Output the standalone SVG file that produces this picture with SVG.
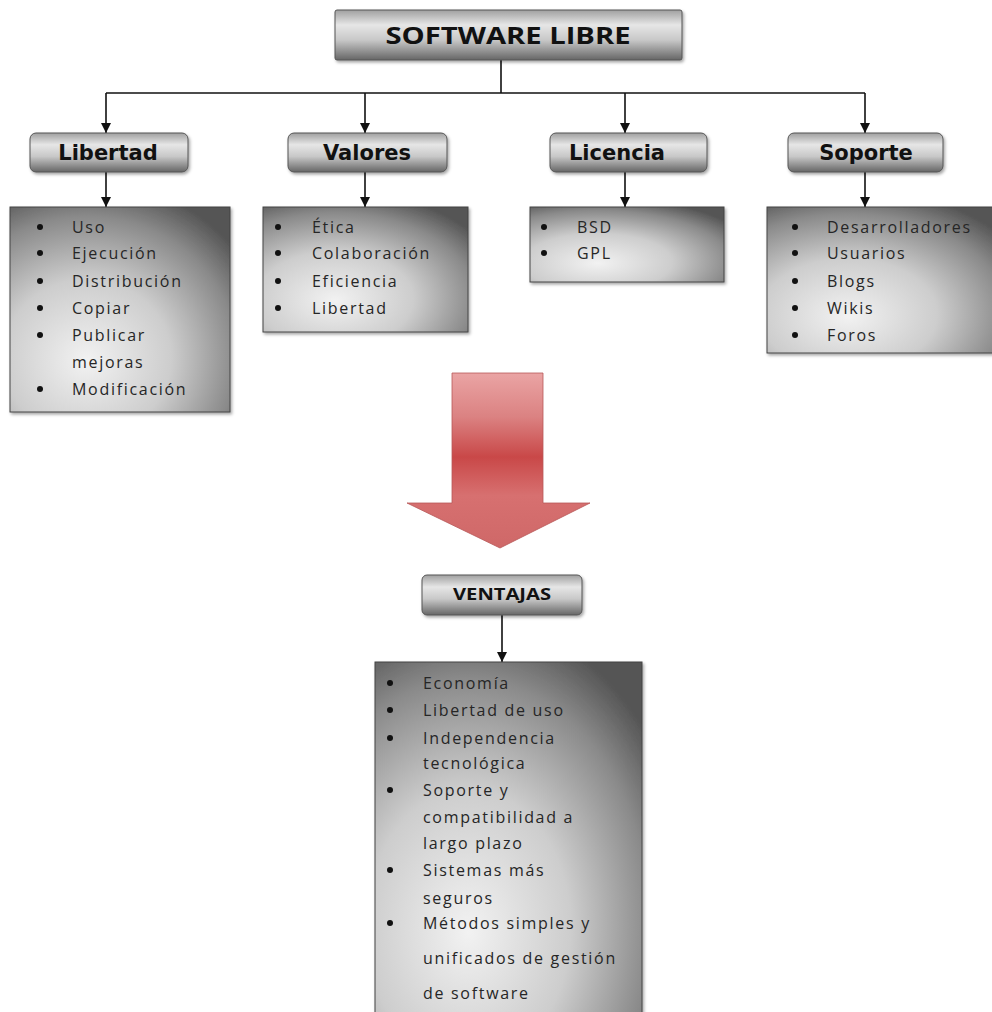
<svg xmlns="http://www.w3.org/2000/svg" width="992" height="1012" viewBox="0 0 992 1012">
<style>
.hdr{font-family:"DejaVu Sans",Verdana,sans-serif;font-weight:bold;font-size:21px;fill:#111;text-anchor:middle}
.ttl{font-family:"Open Sans","Liberation Sans",sans-serif;font-weight:bold;font-size:23px;fill:#111;text-anchor:middle}
.vt{font-family:"Open Sans","Liberation Sans",sans-serif;font-weight:bold;font-size:16px;fill:#111;text-anchor:middle}
.li{font-family:"Open Sans","Liberation Sans",sans-serif;font-size:16px;fill:#262626;letter-spacing:1.7px}
.hbox{fill:url(#hg);stroke:#555;stroke-width:1;filter:url(#sh)}
.lbox{fill:url(#lg);stroke:#444;stroke-width:1;filter:url(#sh)}
.con{stroke:#111;stroke-width:1.6;fill:none}
.bul{fill:#111}
</style>
<defs>
<linearGradient id="hg" x1="0" y1="0" x2="0" y2="1">
<stop offset="0" stop-color="#a0a0a0"/>
<stop offset="0.3" stop-color="#e6e6e6"/>
<stop offset="0.6" stop-color="#c8c8c8"/>
<stop offset="1" stop-color="#666"/>
</linearGradient>
<radialGradient id="lg" cx="0.35" cy="0.72" r="0.85" fx="0.35" fy="0.75">
<stop offset="0" stop-color="#f2f2f2"/>
<stop offset="0.45" stop-color="#cdcdcd"/>
<stop offset="0.8" stop-color="#8a8a8a"/>
<stop offset="1" stop-color="#555"/>
</radialGradient>
<linearGradient id="ag" x1="0" y1="0" x2="0" y2="1">
<stop offset="0" stop-color="#eaa4a4"/>
<stop offset="0.25" stop-color="#db8282"/>
<stop offset="0.48" stop-color="#c94848"/>
<stop offset="0.7" stop-color="#d77070"/>
<stop offset="1" stop-color="#cf6868"/>
</linearGradient>
<filter id="sh" x="-10%" y="-10%" width="130%" height="130%">
<feDropShadow dx="1.5" dy="2" stdDeviation="1.5" flood-color="#000" flood-opacity="0.35"/>
</filter>
<marker id="ah" viewBox="0 0 10 10" refX="10" refY="5" markerWidth="10" markerHeight="10" markerUnits="userSpaceOnUse" orient="auto">
<path d="M0,0 L10,5 L0,10 z" fill="#111"/>
</marker>
</defs>

<g id="connectors">
<line class="con" x1="501" y1="60" x2="501" y2="93"/>
<line class="con" x1="106" y1="93" x2="865" y2="93"/>
<line class="con" x1="106" y1="93" x2="106" y2="133" marker-end="url(#ah)"/>
<line class="con" x1="365" y1="93" x2="365" y2="133" marker-end="url(#ah)"/>
<line class="con" x1="625" y1="93" x2="625" y2="133" marker-end="url(#ah)"/>
<line class="con" x1="865" y1="93" x2="865" y2="133" marker-end="url(#ah)"/>
<line class="con" x1="106" y1="172" x2="106" y2="207" marker-end="url(#ah)"/>
<line class="con" x1="365" y1="172" x2="365" y2="207" marker-end="url(#ah)"/>
<line class="con" x1="625" y1="172" x2="625" y2="207" marker-end="url(#ah)"/>
<line class="con" x1="865" y1="172" x2="865" y2="207" marker-end="url(#ah)"/>
<line class="con" x1="502" y1="615" x2="502" y2="662" marker-end="url(#ah)"/>
</g>

<g id="software-libre">
<rect class="hbox" x="335" y="10" width="347" height="50" rx="2"/>
<text class="ttl" x="508" y="44" textLength="245" lengthAdjust="spacingAndGlyphs">SOFTWARE LIBRE</text>
</g>

<g id="libertad">
<rect class="hbox" x="30" y="133" width="158" height="39" rx="6"/>
<text class="hdr" x="108" y="160">Libertad</text>
</g>
<g id="libertad-list">
<rect class="lbox" x="10" y="207" width="220" height="205"/>
<circle class="bul" cx="40" cy="227" r="3"/><text class="li" x="72" y="233">Uso</text>
<circle class="bul" cx="40" cy="253" r="3"/><text class="li" x="72" y="259">Ejecución</text>
<circle class="bul" cx="40" cy="281" r="3"/><text class="li" x="72" y="287">Distribución</text>
<circle class="bul" cx="40" cy="308" r="3"/><text class="li" x="72" y="314">Copiar</text>
<circle class="bul" cx="40" cy="335" r="3"/><text class="li" x="72" y="341">Publicar</text>
<text class="li" x="72" y="368">mejoras</text>
<circle class="bul" cx="40" cy="389" r="3"/><text class="li" x="72" y="395">Modificación</text>
</g>

<g id="valores">
<rect class="hbox" x="288" y="133" width="159" height="39" rx="6"/>
<text class="hdr" x="367" y="160">Valores</text>
</g>
<g id="valores-list">
<rect class="lbox" x="263" y="207" width="205" height="125"/>
<circle class="bul" cx="278" cy="227" r="3"/><text class="li" x="312" y="233">Ética</text>
<circle class="bul" cx="278" cy="253" r="3"/><text class="li" x="312" y="259">Colaboración</text>
<circle class="bul" cx="278" cy="281" r="3"/><text class="li" x="312" y="287">Eficiencia</text>
<circle class="bul" cx="278" cy="308" r="3"/><text class="li" x="312" y="314">Libertad</text>
</g>

<g id="licencia">
<rect class="hbox" x="550" y="133" width="157" height="39" rx="6"/>
<text class="hdr" x="617" y="160">Licencia</text>
</g>
<g id="licencia-list">
<rect class="lbox" x="530" y="207" width="194" height="75"/>
<circle class="bul" cx="544" cy="227" r="3"/><text class="li" x="577" y="233">BSD</text>
<circle class="bul" cx="544" cy="253" r="3"/><text class="li" x="577" y="259">GPL</text>
</g>

<g id="soporte">
<rect class="hbox" x="788" y="133" width="155" height="39" rx="6"/>
<text class="hdr" x="866" y="160">Soporte</text>
</g>
<g id="soporte-list">
<rect class="lbox" x="767" y="207" width="232" height="146"/>
<circle class="bul" cx="795" cy="227" r="3"/><text class="li" x="827" y="233">Desarrolladores</text>
<circle class="bul" cx="795" cy="253" r="3"/><text class="li" x="827" y="259">Usuarios</text>
<circle class="bul" cx="795" cy="281" r="3"/><text class="li" x="827" y="287">Blogs</text>
<circle class="bul" cx="795" cy="308" r="3"/><text class="li" x="827" y="314">Wikis</text>
<circle class="bul" cx="795" cy="335" r="3"/><text class="li" x="827" y="341">Foros</text>
</g>

<g id="big-arrow">
<path d="M452,373 L543,373 L543,503 L590,503 L500,548 L407,503 L452,503 Z" fill="url(#ag)" stroke="#b85858" stroke-width="0.8"/>
</g>

<g id="ventajas">
<rect class="hbox" x="422" y="575" width="160" height="40" rx="5"/>
<text class="vt" x="502" y="600" textLength="98" lengthAdjust="spacingAndGlyphs">VENTAJAS</text>
</g>
<g id="ventajas-list">
<rect class="lbox" x="375" y="662" width="267" height="360"/>
<circle class="bul" cx="390" cy="683" r="3"/><text class="li" x="423" y="689">Economía</text>
<circle class="bul" cx="390" cy="710" r="3"/><text class="li" x="423" y="716">Libertad de uso</text>
<circle class="bul" cx="390" cy="738" r="3"/><text class="li" x="423" y="744">Independencia</text>
<text class="li" x="423" y="769">tecnológica</text>
<circle class="bul" cx="390" cy="790" r="3"/><text class="li" x="423" y="796">Soporte y</text>
<text class="li" x="423" y="823">compatibilidad a</text>
<text class="li" x="423" y="849">largo plazo</text>
<circle class="bul" cx="390" cy="870" r="3"/><text class="li" x="423" y="876">Sistemas más</text>
<text class="li" x="423" y="904">seguros</text>
<circle class="bul" cx="390" cy="923" r="3"/><text class="li" x="423" y="929">Métodos simples y</text>
<text class="li" x="423" y="964">unificados de gestión</text>
<text class="li" x="423" y="999">de software</text>
</g>
</svg>
